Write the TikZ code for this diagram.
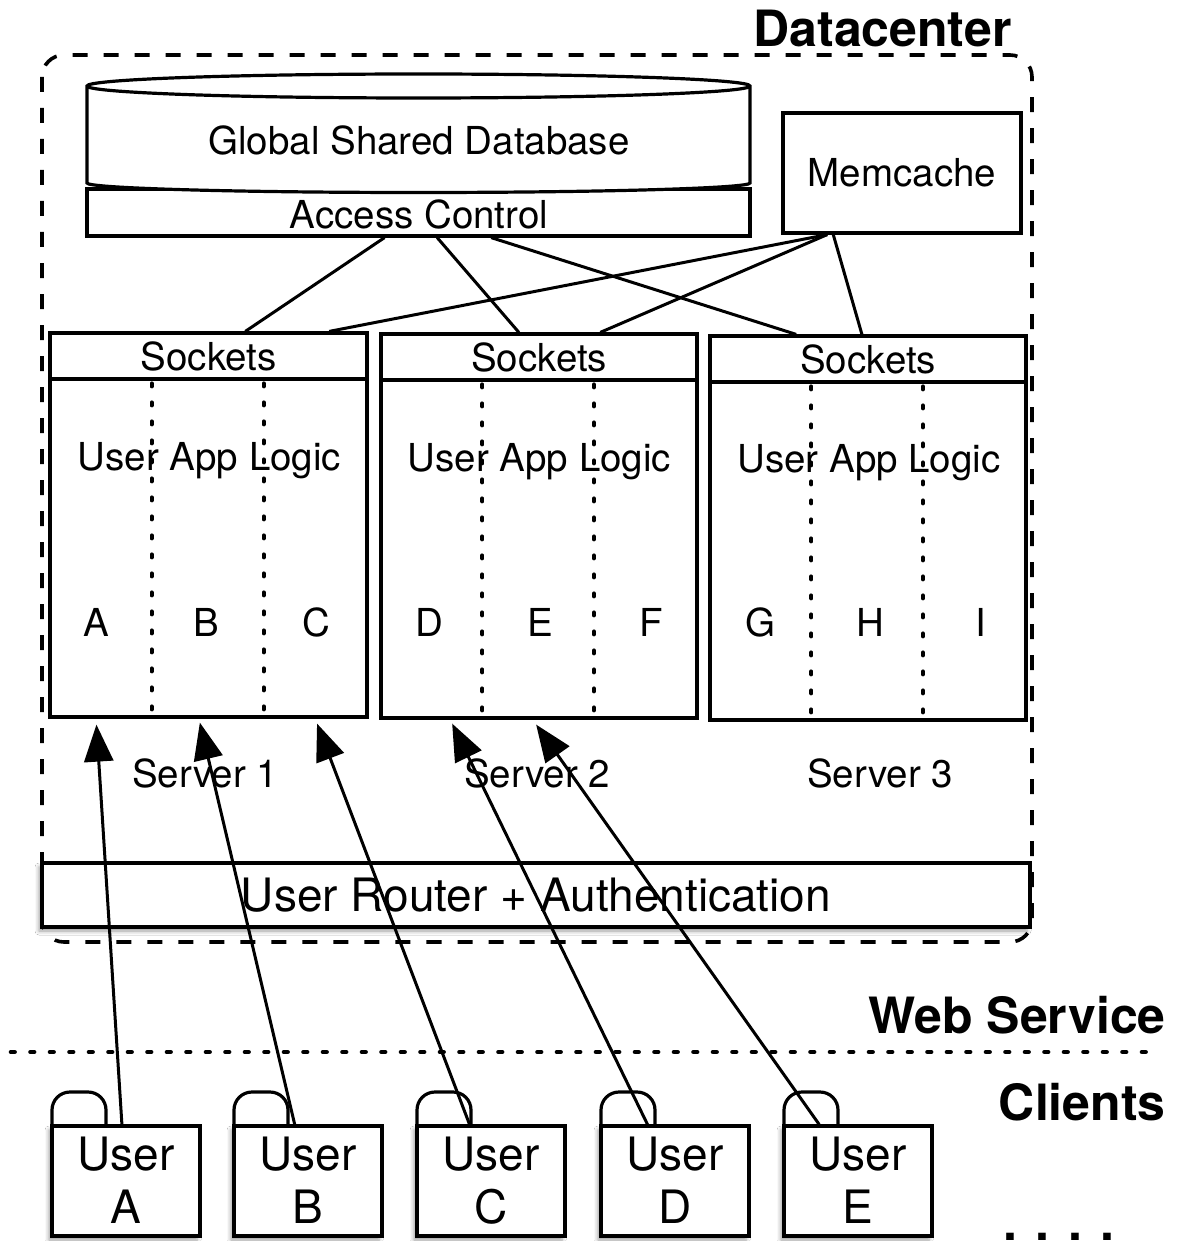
\documentclass[tikz,border=0pt]{standalone}
\usepackage{fontspec}
\setmainfont{TeX Gyre Heros}
\usetikzlibrary{arrows.meta,calc,shadows.blur}

\begin{document}
\begin{tikzpicture}[x=0.5pt,y=-0.5pt,
  box/.style={draw,line width=1.6pt,fill=white,inner sep=0pt},
  link/.style={line width=1.5pt},
  arr/.style={line width=1.5pt,-{Triangle[length=18.5pt,width=14.5pt]}},
  slot/.style={line width=2pt,line cap=round,dash pattern=on 1.5pt off 8pt},
  frame/.style={line width=1.8pt,dash pattern=on 7.5pt off 8pt,rounded corners=11pt},
  txt/.style={inner sep=0pt,font=\fontsize{19.25}{22}\selectfont},
  big/.style={inner sep=0pt,font=\fontsize{23}{26}\selectfont},
  hdr/.style={inner sep=0pt,font=\fontsize{25}{28}\selectfont\bfseries},
  shade/.style={blur shadow={shadow xshift=-1.5pt,shadow yshift=-2pt,shadow blur radius=2pt,shadow opacity=40}},
  client/.style={box,shade,minimum width=74pt,minimum height=55pt},
  tab/.style={line width=1.6pt,rounded corners=9pt}
]
\useasboundingbox (0,0) rectangle (1177,1241);
\fill[white] (0,0) rectangle (1177,1241);

% datacenter boundary
\draw[frame] (42,55) rectangle (1032,942);
\node[hdr,anchor=base east] (dc) at (1012,47) {Datacenter};

% shared database with its access layer
\node[box,minimum width=331.5pt,minimum height=23.5pt] (access) at (418.5,212.5) {};
\node[txt,anchor=base] (acctxt) at (419,228) {Access Control};
\draw[box] (87,86) -- (87,183) arc[start angle=180,end angle=360,x radius=165.75pt,y radius=4.75pt]
  -- (750,86) arc[start angle=0,end angle=180,x radius=165.75pt,y radius=6pt] -- cycle;
\draw[line width=1.6pt] (87,86) arc[start angle=180,end angle=360,x radius=165.75pt,y radius=6pt];
\node[txt,anchor=base] (db) at (419,155) {Global Shared Database};

% cache
\node[box,minimum width=119pt,minimum height=60pt,font=\fontsize{19.25}{22}\selectfont] (mem) at (902,173) {Memcache};

% servers
\node[box,minimum width=158.5pt,minimum height=169pt] (b1) at (208.5,548) {};
\node[box,minimum width=158.5pt,minimum height=23pt,font=\fontsize{19.25}{22}\selectfont] (s1) at (208.5,356) {Sockets};
\node[box,minimum width=158pt,minimum height=169pt] (b2) at (539,549) {};
\node[box,minimum width=158pt,minimum height=23pt,font=\fontsize{19.25}{22}\selectfont] (s2) at (539,357) {Sockets};
\node[box,minimum width=158pt,minimum height=169pt] (b3) at (868,551) {};
\node[box,minimum width=158pt,minimum height=23pt,font=\fontsize{19.25}{22}\selectfont] (s3) at (868,359) {Sockets};

\foreach \b in {b1,b2,b3}{
  \draw[slot] ($(\b.north west)!0.322!(\b.north east)+(0,6)$) -- ($(\b.south west)!0.322!(\b.south east)$);
  \draw[slot] ($(\b.north west)!0.672!(\b.north east)+(0,6)$) -- ($(\b.south west)!0.672!(\b.south east)$);
}

\node[txt,anchor=base] (ual1) at (209.5,470) {User App Logic};
\node[txt,anchor=base] (ual2) at (539.5,471) {User App Logic};
\node[txt,anchor=base] (ual3) at (869,472) {User App Logic};

\foreach \l/\x in {A/96,B/206,C/316,D/429,E/540,F/651,G/760,H/870,I/981}
  \node[txt,anchor=base] (slot\l) at (\x,636) {\l};

\node[txt,anchor=base] (srv1) at (205,787) {Server 1};
\node[txt,anchor=base] (srv2) at (537,787) {Server 2};
\node[txt,anchor=base] (srv3) at (880,787) {Server 3};

% links between storage and the socket layers
\draw[link] ($(access.south west)!0.449!(access.south east)$) -- ($(s1.north west)!0.615!(s1.north east)$);
\draw[link] ($(access.south west)!0.528!(access.south east)$) -- ($(s2.north west)!0.437!(s2.north east)$);
\draw[link] ($(access.south west)!0.609!(access.south east)$) -- ($(s3.north west)!0.275!(s3.north east)$);
\draw[link] ($(mem.south west)!0.19!(mem.south east)$) -- ($(s1.north west)!0.877!(s1.north east)$);
\draw[link] ($(mem.south west)!0.19!(mem.south east)$) -- ($(s2.north west)!0.692!(s2.north east)$);
\draw[link] ($(mem.south west)!0.215!(mem.south east)$) -- ($(s3.north west)!0.481!(s3.north east)$);

% router
\node[box,shade,minimum width=494pt,minimum height=32pt,font=\fontsize{23}{26}\selectfont] (router) at (536,895) {User Router + Authentication};

% boundary between service and clients
\coordinate (sepL) at (11,1052);
\coordinate (sepR) at (1150,1052);
\draw[line width=2.3pt,line cap=round,dash pattern=on 1.8pt off 7.95pt] (sepL) -- (sepR);
\node[hdr,anchor=base east] (ws) at (1166,1033) {Web Service};
\node[hdr,anchor=base east] (cl) at (1166,1120) {Clients};

% clients
\foreach \n/\l/\x in {ua/A/52,ub/B/234,uc/C/417,ud/D/601,ue/E/784}{
  \draw[tab] (\x,1126) -- (\x,1092) -- (\x+54,1092) -- (\x+54,1126);
  \node[client] (\n) at (\x+74,1181) {};
  \node[big,anchor=base] (\n t) at (\x+74,1170) {User};
  \node[big,anchor=base] (\n l) at (\x+74,1223) {\l};
}
\node[hdr,anchor=base west] (more) at (1003,1240) {. . . .};

% client connections
\draw[arr] ($(ua.north west)!0.473!(ua.north east)$) -- ($(b1.south west)!0.150!(b1.south east)+(0,6)$);
\draw[arr] ($(ub.north west)!0.412!(ub.north east)$) -- ($(b1.south west)!0.473!(b1.south east)+(0,4)$);
\draw[arr] ($(uc.north west)!0.358!(uc.north east)$) -- ($(b1.south west)!0.839!(b1.south east)+(0,5)$);
\draw[arr] ($(ud.north west)!0.318!(ud.north east)$) -- ($(b2.south west)!0.228!(b2.south east)+(0,4)$);
\draw[arr] ($(ue.north west)!0.243!(ue.north east)$) -- ($(b2.south west)!0.491!(b2.south east)+(0,5)$);
\end{tikzpicture}
\end{document}
